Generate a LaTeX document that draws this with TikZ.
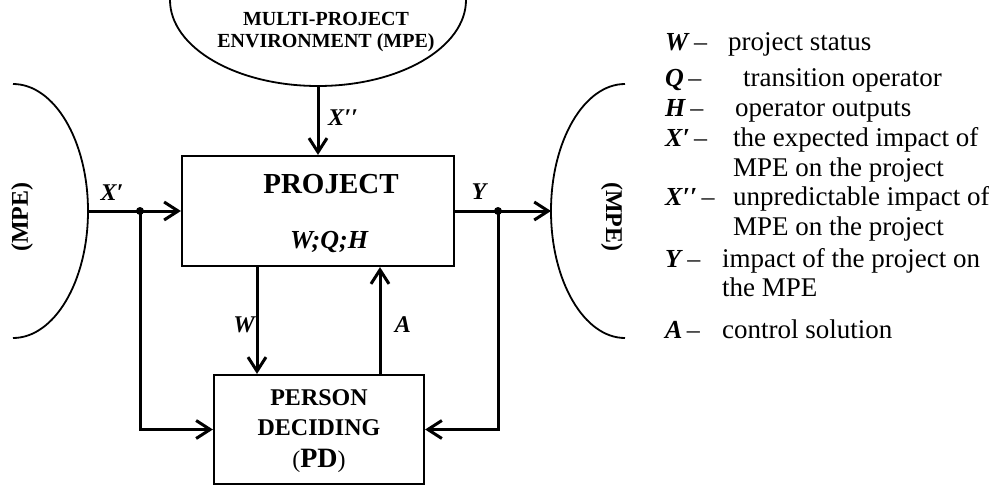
\documentclass[tikz,border=0pt]{standalone}
\usepackage{fontspec}
\setmainfont{Liberation Serif}
\usetikzlibrary{arrows.meta}
\begin{document}
\begin{tikzpicture}[x=1pt,y=-1pt,
  box/.style={draw, line width=2.2pt, inner sep=0pt},
  conn/.style={line width=3pt, -{Straight Barb[length=14pt,width=18pt]}},
  env/.style={line width=1.8pt},
  lbl/.style={inner sep=0pt, font=\fontsize{24}{26}\selectfont\bfseries\itshape},
  boxtxt/.style={inner sep=0pt, anchor=base, font=\fontsize{24}{26}\selectfont\bfseries},
  envtxt/.style={inner sep=0pt, anchor=base, font=\fontsize{20}{22}\selectfont\bfseries},
  sym/.style={anchor=base west, inner sep=0pt, font=\fontsize{26}{30}\selectfont},
  leg/.style={anchor=base west, inner sep=0pt, font=\fontsize{27}{30}\selectfont},
  dot/.style={fill, circle, inner sep=0pt, minimum size=8pt}
]
\useasboundingbox (0,0) rectangle (989,485);

% environments
\draw[env] (170,0) arc[start angle=180, end angle=0, x radius=148, y radius=86];
\draw[env] (13,84) arc[start angle=-90, end angle=90, x radius=75, y radius=127];
\draw[env] (625,84) arc[start angle=270, end angle=90, x radius=74, y radius=127];

\node[envtxt] (mpe1) at (326,25.6) {MULTI-PROJECT};
\node[envtxt] (mpe2) at (326,47.6) {ENVIRONMENT (MPE)};
\node[inner sep=0pt, rotate=90, font=\fontsize{24}{26}\selectfont\bfseries] (mpel) at (22,217) {(MPE)};
\node[inner sep=0pt, rotate=-90, font=\fontsize{24}{26}\selectfont\bfseries] (mper) at (612,217) {(MPE)};

\coordinate (topenv) at (318,86);
\coordinate (lenv) at (88,211);
\coordinate (renv) at (551,211);

% boxes
\node[box, minimum width=272pt, minimum height=110pt] (proj) at (318,211) {};
\node[boxtxt, font=\fontsize{29}{30}\selectfont\bfseries] (projt) at (331,193) {PROJECT};
\node[boxtxt, font=\fontsize{26}{30}\selectfont\bfseries\itshape] (projs) at (329,248) {W;Q;H};

\node[box, minimum width=210pt, minimum height=109pt] (pd) at (319,429.5) {};
\node[boxtxt] (pd1) at (319,405) {PERSON};
\node[boxtxt] (pd2) at (319,435) {DECIDING};
\node[boxtxt] (pd3) at (319,467) {\fontsize{24}{26}\selectfont\mdseries(\fontsize{28}{30}\selectfont\bfseries PD\fontsize{24}{26}\selectfont\mdseries)};

% connectors
\coordinate (dl) at (140,211);
\coordinate (dr) at (498,211);
\coordinate (wx) at (257,0);
\coordinate (ax) at (380,0);

\draw[conn] (topenv) -- (topenv |- proj.north);
\draw[conn] (lenv) -- (lenv -| proj.west);
\draw[conn] (proj.east |- renv) -- (renv);
\draw[conn] (dl) |- (pd.west);
\draw[conn] (dr) |- (pd.east);
\draw[conn] (proj.south -| wx) -- (pd.north -| wx);
\draw[conn] (pd.north -| ax) -- (proj.south -| ax);
\node[dot] (dotl) at (dl) {};
\node[dot] (dotr) at (dr) {};

% labels
\node[lbl] (lx2) at (343,118) {X′′};
\node[lbl] (lx1) at (112,193) {X′};
\node[lbl] (ly) at (479,192) {Y};
\node[lbl] (lw) at (244,325) {W};
\node[lbl] (la) at (403,325) {A};

% legend
\node[sym] (s1) at (665,50) {\textbf{\textit{W}}\,–};
\node[leg] (t1) at (728,50) {project status};
\node[sym] (s2) at (665,86) {\textbf{\textit{Q}}\,–};
\node[leg] (t2) at (743,86) {transition operator};
\node[sym] (s3) at (665,116) {\textbf{\textit{H}}\,–};
\node[leg] (t3) at (735,116) {operator outputs};
\node[sym] (s4) at (665,146) {\textbf{\textit{X′}}\,–};
\node[leg] (t4) at (733,146) {the expected impact of};
\node[leg] (t4b) at (733,176) {MPE on the project};
\node[sym] (s5) at (665,205) {\textbf{\textit{X′′}}\,–};
\node[leg] (t5) at (733,205) {unpredictable impact of};
\node[leg] (t5b) at (733,235) {MPE on the project};
\node[sym] (s6) at (665,267) {\textbf{\textit{Y}}\,–};
\node[leg] (t6) at (722,267) {impact of the project on};
\node[leg] (t6b) at (722,296) {the MPE};
\node[sym] (s7) at (665,338) {\textbf{\textit{A}}\,–};
\node[leg] (t7) at (722,338) {control solution};
\end{tikzpicture}
\end{document}
